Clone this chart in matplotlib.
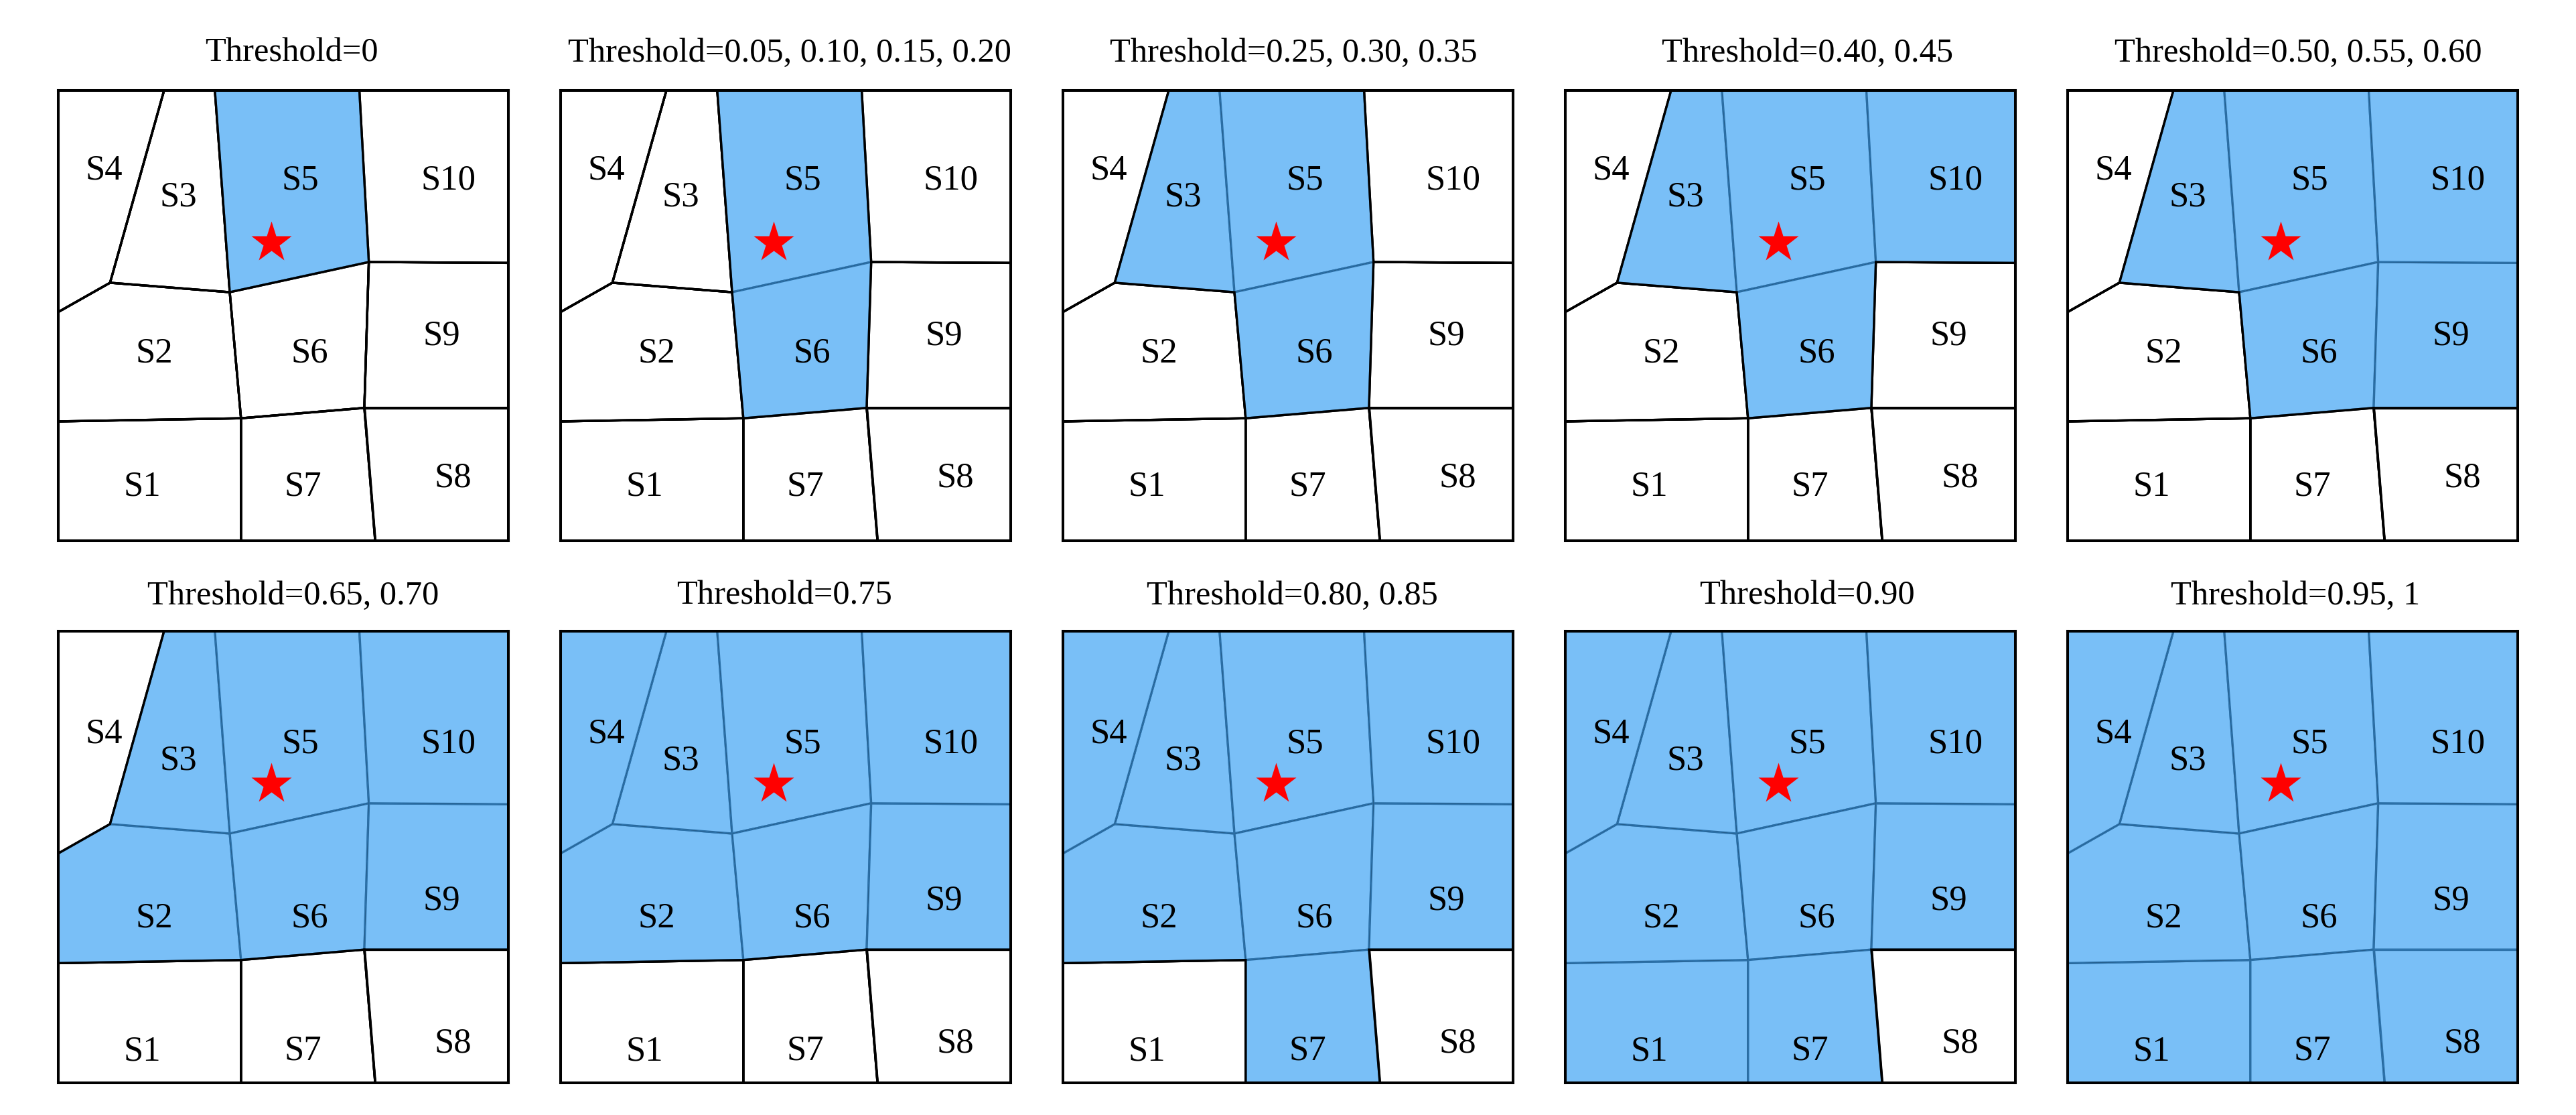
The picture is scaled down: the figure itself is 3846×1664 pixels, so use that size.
import matplotlib
matplotlib.use('Agg')
import matplotlib.pyplot as plt
from matplotlib.patches import Polygon

plt.rcParams['font.family'] = ['Liberation Serif', 'DejaVu Serif']

# corner points of the sectors, panel runs 0-100 on both axes
points = {
    'a': (23.5, 100), 'b': (34.8, 100), 'c': (66.9, 100),
    'd': (11.5, 57.3), 'e': (0, 50.8), 'f': (38.1, 55.2),
    'g': (69.0, 61.9), 'h': (100, 61.7), 'i': (68.0, 29.5),
    'j': (100, 29.5), 'k': (40.6, 27.2), 'l': (0, 26.5),
    'm': (40.6, 0), 'n': (70.4, 0),
    'tl': (0, 100), 'tr': (100, 100), 'bl': (0, 0), 'br': (100, 0),
}
sectors = {
    'S1': ['l', 'k', 'm', 'bl'],
    'S2': ['e', 'd', 'f', 'k', 'l'],
    'S3': ['a', 'b', 'f', 'd'],
    'S4': ['tl', 'a', 'd', 'e'],
    'S5': ['b', 'c', 'g', 'f'],
    'S6': ['f', 'g', 'i', 'k'],
    'S7': ['k', 'i', 'n', 'm'],
    'S8': ['i', 'j', 'br', 'n'],
    'S9': ['g', 'h', 'j', 'i'],
    'S10': ['c', 'tr', 'h', 'g'],
}

label_x = {'S1': 18.6, 'S2': 21.3, 'S3': 26.7, 'S4': 10.1, 'S5': 53.8,
           'S6': 55.8, 'S7': 54.3, 'S8': 87.7, 'S9': 85.1, 'S10': 86.7}
label_y_top = {'S1': 12.1, 'S2': 41.7, 'S3': 76.4, 'S4': 82.3, 'S5': 80.2,
               'S6': 41.7, 'S7': 12.1, 'S8': 14.1, 'S9': 45.6, 'S10': 80.2}
label_y_bottom = {'S1': 7.0, 'S2': 36.5, 'S3': 71.4, 'S4': 77.4, 'S5': 75.2,
                  'S6': 36.5, 'S7': 7.2, 'S8': 8.8, 'S9': 40.5, 'S10': 75.2}
star_x = 47.3
star_y = 66.2

thresholds = ['0', '0.05, 0.10, 0.15, 0.20', '0.25, 0.30, 0.35', '0.40, 0.45',
              '0.50, 0.55, 0.60', '0.65, 0.70', '0.75', '0.80, 0.85', '0.90',
              '0.95, 1']
flooded = [
    ['S5'],
    ['S5', 'S6'],
    ['S3', 'S5', 'S6'],
    ['S3', 'S5', 'S6', 'S10'],
    ['S3', 'S5', 'S6', 'S9', 'S10'],
    ['S2', 'S3', 'S5', 'S6', 'S9', 'S10'],
    ['S2', 'S3', 'S4', 'S5', 'S6', 'S9', 'S10'],
    ['S2', 'S3', 'S4', 'S5', 'S6', 'S7', 'S9', 'S10'],
    ['S1', 'S2', 'S3', 'S4', 'S5', 'S6', 'S7', 'S9', 'S10'],
    ['S1', 'S2', 'S3', 'S4', 'S5', 'S6', 'S7', 'S8', 'S9', 'S10'],
]

W, H = 3846, 1665
lefts = [87, 837, 1587, 2337, 3087]
tops = [136, 943]
widths = 672
heights = [672, 674]
title_base = [92, 902]
title_shift = [12, 6, 8, 26, 8, 15, -2, 6, 25, 4]   # px, titles are not quite centred
flood_color = (65 / 255, 164 / 255, 244 / 255)

fig = plt.figure(figsize=(W / 100, H / 100), dpi=100)

for n in range(10):
    row, col = divmod(n, 5)
    ax = fig.add_axes([lefts[col] / W, 1 - (tops[row] + heights[row]) / H,
                       widths / W, heights[row] / H])

    for name, corners in sectors.items():
        xy = [points[c] for c in corners]
        ax.add_patch(Polygon(xy, closed=True, fc='white', ec='black', lw=2.4, zorder=1))
        if name in flooded[n]:
            ax.add_patch(Polygon(xy, closed=True, fc=flood_color, ec='none', alpha=0.7, zorder=2))
        else:
            # dry sectors keep a full black outline over the fill next door
            ax.add_patch(Polygon(xy, closed=True, fc='none', ec='black', lw=2.4, zorder=2.5))

    label_y = label_y_top if row == 0 else label_y_bottom
    for name in sectors:
        ax.text(label_x[name], label_y[name], name, fontsize=38, ha='center', va='center', zorder=3)
    ax.plot([star_x], [star_y], marker='*', ms=46, color='red', mec='none', zorder=4)

    ax.set_xlim(0, 100)
    ax.set_ylim(0, 100)
    ax.set_xticks([])
    ax.set_yticks([])
    for sp in ax.spines.values():
        sp.set_linewidth(2.9)
        sp.set_zorder(5)

    cx = lefts[col] + widths / 2 + title_shift[n]
    fig.text(cx / W, 1 - title_base[row] / H, 'Threshold=' + thresholds[n],
             fontsize=36.4, ha='center', va='baseline')

fig.savefig('out.png', dpi=100)
